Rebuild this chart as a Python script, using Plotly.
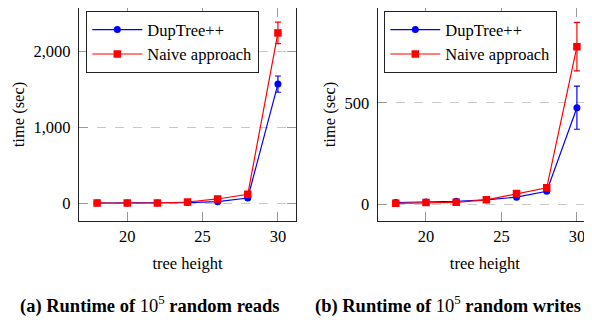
import plotly.graph_objects as go

heights = [18, 20, 22, 24, 26, 28, 30]

reads_dup = [0, 0, 0, 5, 18, 66, 1565]
reads_dup_err = [0, 0, 0, 0, 0, 0, 107]
reads_naive = [0, 0, 0, 13, 53, 115, 2239]
reads_naive_err = [0, 0, 0, 0, 0, 0, 141]

writes_dup = [10, 13, 16, 23, 36, 65, 476]
writes_dup_err = [0, 0, 0, 0, 0, 0, 106]
writes_naive = [6, 10, 11, 23, 54, 82, 776]
writes_naive_err = [0, 0, 0, 0, 0, 0, 119]

series_names = ["DupTree++", "Naive approach"]
captions = ["<b>(a) Runtime of </b>10<sup>5</sup><b> random reads</b>",
            "<b>(b) Runtime of </b>10<sup>5</sup><b> random writes</b>"]

BLUE = "#0000ff"
RED = "#ff0000"
FONT = "Liberation Serif"

# the page body has an 8px margin: figure is laid out in page pixels minus 8
W, H = 584, 312
PLOT_BOTTOM = 221  # page px
PLOT_LEFT = 79     # page px
PW = W - (PLOT_LEFT - 8)
PH = PLOT_BOTTOM - 8


def px_x(p):
    return (p - PLOT_LEFT) / PW


def px_y(p):
    return (PLOT_BOTTOM - p) / PH


fig = go.Figure()


def add(x, y, err, name, color, symbol, xa, ya, legend):
    fig.add_trace(go.Scatter(
        x=x, y=y, name=name, mode="lines+markers",
        line=dict(color=color, width=1.2),
        marker=dict(color=color, symbol=symbol, size=7 if symbol == "circle" else 7.5),
        error_y=dict(type="data", array=err, visible=True, color=color, thickness=1.2, width=3),
        xaxis=xa, yaxis=ya, legend=legend,
    ))


add(heights, reads_dup, reads_dup_err, series_names[0], BLUE, "circle", "x", "y", "legend")
add(heights, reads_naive, reads_naive_err, series_names[1], RED, "square", "x", "y", "legend")
add(heights, writes_dup, writes_dup_err, series_names[0], BLUE, "circle", "x2", "y2", "legend2")
add(heights, writes_naive, writes_naive_err, series_names[1], RED, "square", "x2", "y2", "legend2")

axis_common = dict(
    showline=True, linecolor="#222", linewidth=1.3,
    ticks="inside", ticklen=9, tickcolor="#999", tickwidth=1,
    tickfont=dict(family=FONT, size=16.5, color="black"),
    zeroline=False, automargin=False,
)

legend_common = dict(
    xanchor="left", yanchor="top",
    bordercolor="#222", borderwidth=1.3, bgcolor="white",
    font=dict(family=FONT, size=16.5), itemwidth=50,
    entrywidth=160, tracegroupgap=0,
)

fig.update_layout(
    width=W, height=H,
    margin=dict(l=PLOT_LEFT - 8, r=0, t=0, b=H - PH, autoexpand=False),
    paper_bgcolor="white", plot_bgcolor="white",
    font=dict(family=FONT, size=16, color="black"),
    showlegend=True,
    xaxis=dict(domain=[0, px_x(296)], range=[16.8, 31.2], tickvals=[20, 25, 30],
               mirror="ticks", showgrid=False, anchor="y",
               title=dict(text="tree height", standoff=12, font=dict(family=FONT, size=16.5)),
               **axis_common),
    yaxis=dict(domain=[0, 1], range=[-237, 2567], tickvals=[0, 1000, 2000],
               ticktext=["0", "1,000", "2,000"], mirror="ticks",
               showgrid=True, gridcolor="#c8c8c8", griddash="dash", gridwidth=1,
               ticklabelstandoff=4, anchor="x",
               title=dict(text="time (sec)", standoff=4, font=dict(family=FONT, size=16.5)),
               **axis_common),
    xaxis2=dict(domain=[px_x(377.7), 1], range=[16.8, 31.0], tickvals=[20, 25, 30],
                mirror="ticks", showgrid=False, anchor="y2",
                title=dict(text="tree height", standoff=12, font=dict(family=FONT, size=16.5)),
                **axis_common),
    yaxis2=dict(domain=[0, 1], range=[-81, 966], tickvals=[0, 500],
                ticktext=["0", "500"], mirror=False,
                showgrid=True, gridcolor="#c8c8c8", griddash="dash", gridwidth=1,
                ticklabelstandoff=4, anchor="x2",
                title=dict(text="time (sec)", standoff=4, font=dict(family=FONT, size=16.5)),
                **axis_common),
    legend=dict(x=px_x(86), y=px_y(11), **legend_common),
    legend2=dict(x=px_x(384), y=px_y(11), **legend_common),
)

fig.add_annotation(text=captions[0], xref="paper", yref="paper",
                   x=px_x(149), y=px_y(304), xanchor="center", yanchor="middle",
                   showarrow=False, font=dict(family=FONT, size=18.5))
fig.add_annotation(text=captions[1], xref="paper", yref="paper",
                   x=px_x(313), y=px_y(304), xanchor="left", yanchor="middle",
                   showarrow=False, font=dict(family=FONT, size=18.5))

fig.write_html("out.html")
